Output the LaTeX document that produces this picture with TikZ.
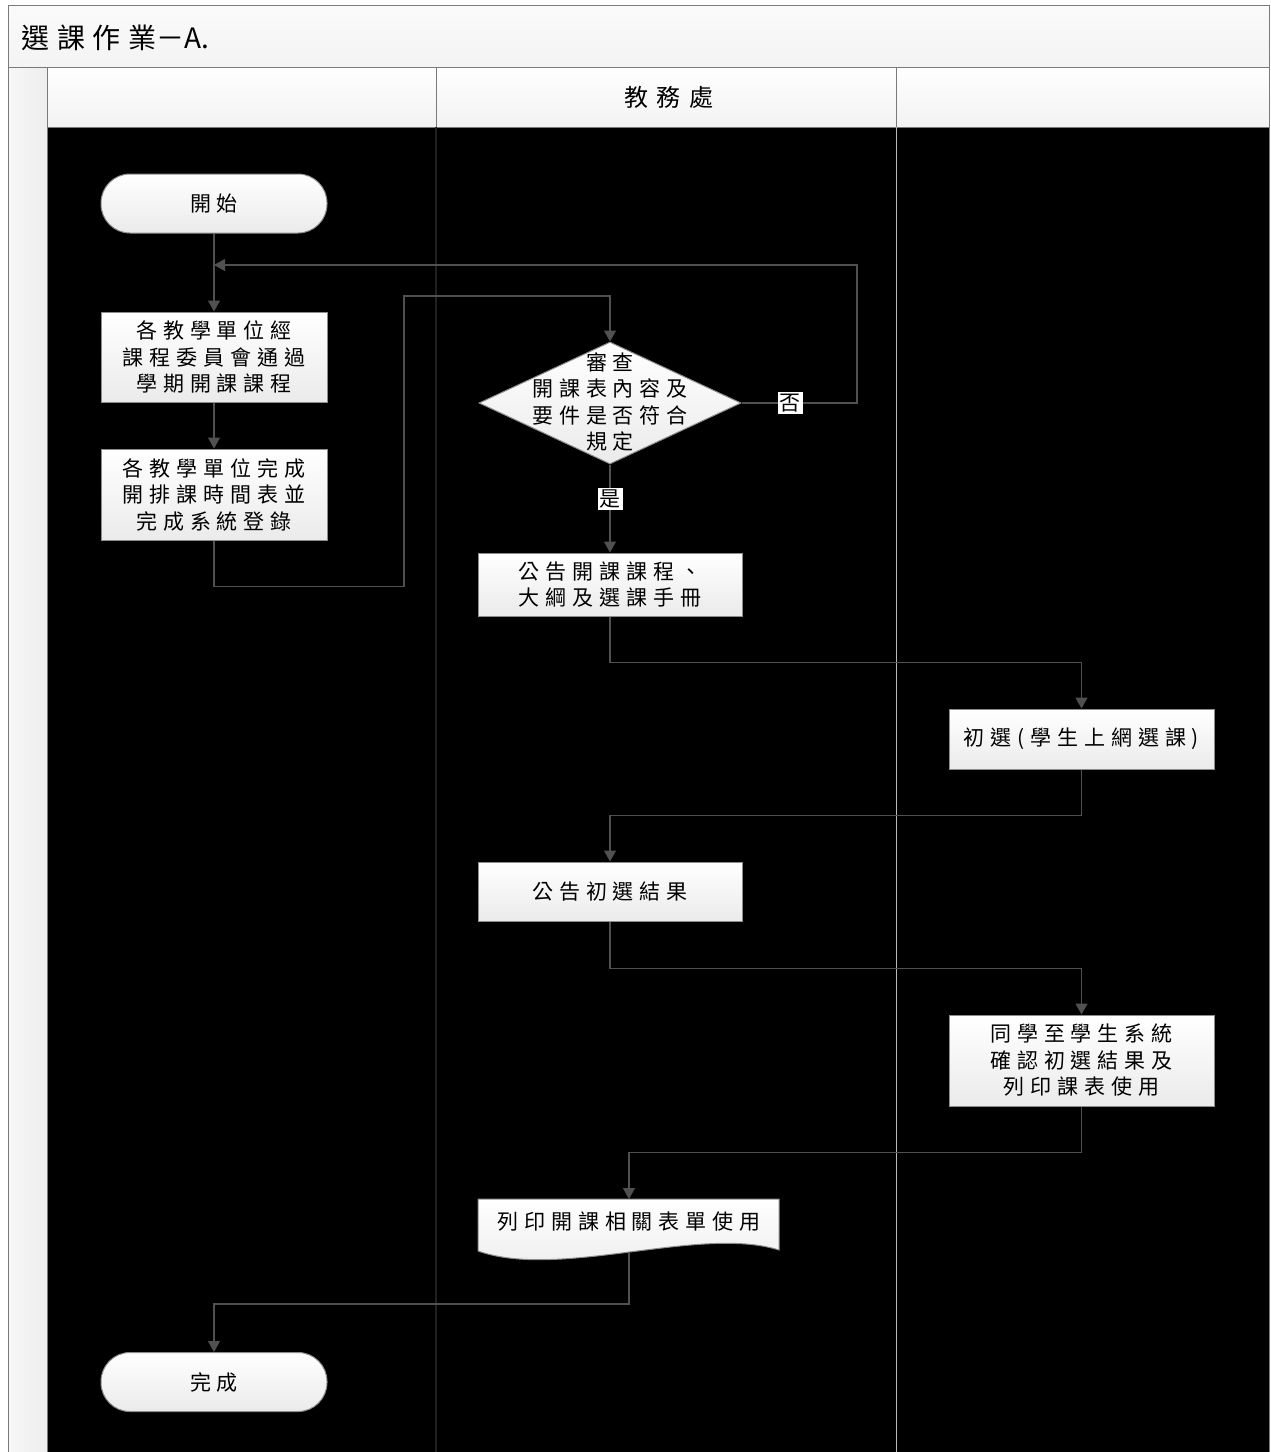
\documentclass[tikz,border=0pt]{standalone}
\usepackage{fontspec}
\setmainfont{Noto Sans CJK TC}
\newfontfamily\boxfnt[LetterSpace=28]{Noto Sans CJK TC}
\newfontfamily\titlefnt[LetterSpace=28]{Noto Sans CJK TC}
\newfontfamily\plainfnt{Noto Sans CJK TC}
\newfontfamily\headfnt[LetterSpace=34]{Noto Sans CJK TC}
\usetikzlibrary{arrows.meta,shapes.geometric}
\definecolor{linegray}{HTML}{505050}
\definecolor{boxgray}{HTML}{8C8C8C}
\definecolor{framegray}{HTML}{7A7A7A}
\begin{document}
\begin{tikzpicture}[x=1pt,y=-1pt,
  conn/.style={draw=linegray,line width=1.3pt,-{Triangle[width=12pt,length=11pt]}},
  boxtext/.style={font=\boxfnt\fontsize{21}{26.5}\selectfont,align=center},
  proc/.style={boxtext,draw=boxgray,line width=1pt,top color=white,bottom color=gray!16,
    minimum width=226pt,inner sep=0pt,anchor=center},
  term/.style={proc,rounded corners=29pt,minimum height=59pt},
  lbl/.style={fill=white,inner sep=2pt,font=\fontsize{21}{24}\selectfont},
  lane/.style={draw=framegray,line width=1pt}
]
\useasboundingbox (0,0) rectangle (1270,1452);
% title band
\path[top color=gray!4,bottom color=gray!9] (8,5) rectangle (1270,67);
\node[anchor=west,inner sep=0pt,font=\fontsize{28}{30}\selectfont] (title) at (21,38) {{\titlefnt 選課作業}\plainfnt－A.};
% left strip
\path[left color=gray!6,right color=gray!14] (8,67) rectangle (47,1452);
% header cells
\path[top color=white,bottom color=gray!10] (47,67) rectangle (1270,127);
\node[font=\headfnt\fontsize{24}{26}\selectfont] (hdr) at (669,97) {教務處};
% black body
\fill[black] (47,127) rectangle (1270,1452);
% frame and lanes
\draw[lane] (8,1452) -- (8,5) -- (1269.5,5) -- (1269.5,1452);
\draw[lane] (8,67) -- (1270,67);
\draw[lane] (47,67) -- (47,1452);
\draw[lane] (47,127) -- (1270,127);
\draw[lane] (436,67) -- (436,127);
\draw[lane] (896,67) -- (896,127);
\draw[draw=gray!25!black,line width=1.2pt] (436,127) -- (436,1452);
\draw[draw=gray!55,line width=1pt] (896,127) -- (896,1452);
% nodes
\node[term] (start) at (214,203.5) {開始};
\node[proc,minimum height=90pt] (b1) at (214,357) {各教學單位經\\課程委員會通過\\學期開課課程};
\node[proc,minimum height=91pt] (b2) at (214,494.5) {各教學單位完成\\開排課時間表並\\完成系統登錄};
\node[diamond,draw=boxgray,line width=1pt,top color=white,bottom color=gray!16,
  minimum width=262pt,minimum height=122pt,inner sep=0pt,aspect=2.15] (dec) at (610,403) {};
\node[boxtext] (dectext) at (610,402) {審查\\開課表內容及\\要件是否符合\\規定};
\node[proc,minimum width=264pt,minimum height=63pt] (b3) at (610,584.5) {公告開課課程、\\大綱及選課手冊};
\node[proc,minimum width=265pt,minimum height=60pt] (b4) at (1081.5,739) {初選(學生上網選課)};
\node[proc,minimum width=264pt,minimum height=59pt] (b5) at (610,891.5) {公告初選結果};
\node[proc,minimum width=265pt,minimum height=91pt] (b6) at (1081.5,1060.5) {同學至學生系統\\確認初選結果及\\列印課表使用};
% document shape
\path[draw=boxgray,line width=1pt,top color=white,bottom color=gray!16]
  (478,1199) -- (779,1199) -- (779,1250) .. controls (700,1225) and (560,1280) .. (478,1251) -- cycle;
\coordinate (doct) at (629,1199);
\coordinate (docb) at (629,1252);
\node[boxtext] (doc) at (629,1222) {列印開課相關表單使用};
\node[term] (end) at (214,1382) {完成};
% connectors
\coordinate (join) at (214,265);
\draw[conn] (start.south) -- (b1.north);
\draw[conn] (dec.east) -| (857,265) -- (join);
\draw[conn] (b1.south) -- (b2.north);
\draw[conn] (b2.south) -- ++(0,46) -| (404,296) -| (dec.north);
\draw[conn] (dec.south) -- (b3.north);
\draw[conn] (b3.south) -- ++(0,46) -| (b4.north);
\draw[conn] (b4.south) -- ++(0,46) -| (b5.north);
\draw[conn] (b5.south) -- ++(0,47) -| (b6.north);
\draw[conn] (b6.south) -- ++(0,46) -| (doct);
\draw[conn] (docb) -- (629,1304) -| (end.north);
% labels
\node[lbl] (no) at (790,403) {否};
\node[lbl] (yes) at (610,499) {是};
\end{tikzpicture}
\end{document}
